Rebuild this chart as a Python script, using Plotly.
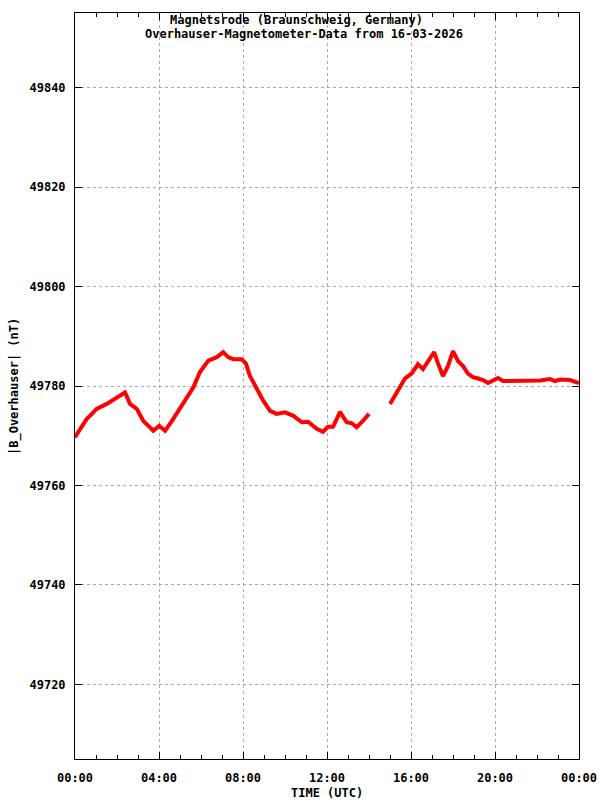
import plotly.graph_objects as go

# Segment 1 (00:00 - 14:00), hours and nT
hours_1 = [0.00, 0.24, 0.56, 0.71, 1.03, 1.51, 1.99, 2.14, 2.38, 2.62, 2.94, 3.25, 3.48, 3.73,
           4.01, 4.29, 4.68, 5.16, 5.63, 5.95, 6.35, 6.75, 7.06, 7.29, 7.54, 7.94, 8.14, 8.33,
           8.65, 8.97, 9.29, 9.60, 10.00, 10.40, 10.80, 11.10, 11.51, 11.81, 12.05, 12.29,
           12.62, 12.94, 13.19, 13.41, 13.71, 14.00]
field_1 = [49769.7, 49771.4, 49773.4, 49774.0, 49775.4, 49776.4, 49777.7, 49778.0, 49778.7,
           49776.4, 49775.4, 49773.0, 49772.0, 49771.0, 49772.0, 49771.0, 49773.4, 49776.7,
           49779.7, 49782.8, 49785.1, 49785.8, 49786.8, 49785.8, 49785.4, 49785.4, 49784.5,
           49782.0, 49779.4, 49777.0, 49775.0, 49774.4, 49774.7, 49774.0, 49772.7, 49772.8,
           49771.4, 49770.8, 49771.8, 49771.8, 49774.8, 49772.7, 49772.5, 49771.7, 49773.0,
           49774.4]

# Segment 2 (15:00 - 24:00)
hours_2 = [15.00, 15.24, 15.48, 15.71, 16.05, 16.33, 16.57, 16.90, 17.10, 17.29, 17.52, 17.76,
           18.00, 18.24, 18.48, 18.71, 18.95, 19.19, 19.43, 19.67, 19.90, 20.14, 20.38, 20.71,
           21.19, 21.67, 22.14, 22.62, 22.86, 23.10, 23.57, 24.00]
field_2 = [49776.4, 49778.2, 49780.0, 49781.5, 49782.6, 49784.4, 49783.4, 49785.4, 49786.8,
           49784.5, 49782.0, 49784.0, 49787.0, 49785.0, 49784.0, 49782.5, 49781.8, 49781.5,
           49781.2, 49780.6, 49781.0, 49781.6, 49781.0, 49781.0, 49781.1, 49781.1, 49781.1,
           49781.4, 49781.0, 49781.3, 49781.2, 49780.6]

x_tick_vals = [0, 4, 8, 12, 16, 20, 24]
x_tick_text = ["00:00", "04:00", "08:00", "12:00", "16:00", "20:00", "00:00"]
y_tick_vals = [49720, 49740, 49760, 49780, 49800, 49820, 49840]
y_tick_text = [str(v) for v in y_tick_vals]

FONT = "DejaVu Sans Mono"

xs = hours_1 + [None] + hours_2
ys = field_1 + [None] + field_2

fig = go.Figure()
fig.add_trace(go.Scatter(x=xs, y=ys, mode="lines", connectgaps=False,
                         line=dict(color="#ff0000", width=4), showlegend=False))

axis_common = dict(
    showline=True, linecolor="black", linewidth=1, mirror="allticks",
    ticks="inside", ticklen=7, tickcolor="black", tickwidth=1,
    showgrid=True, gridcolor="#a8a8a8", gridwidth=1, griddash="dot",
    zeroline=False,
    tickfont=dict(family=FONT, size=12, color="black", weight="bold"),
)

fig.update_xaxes(range=[0, 24], tickmode="array", tickvals=x_tick_vals, ticktext=x_tick_text,
                 minor=dict(dtick=1, tick0=0, ticks="inside", ticklen=4, tickcolor="black",
                            showgrid=False),
                 ticklabelstandoff=8, **axis_common)
fig.update_yaxes(range=[49705, 49855], tickmode="array", tickvals=y_tick_vals,
                 ticktext=y_tick_text, ticklabelstandoff=6, **axis_common)

fig.update_layout(
    width=600, height=800,
    margin=dict(l=75, r=21, t=13, b=41, autoexpand=False),
    plot_bgcolor="white", paper_bgcolor="white",
    font=dict(family=FONT, size=12, color="black"),
    annotations=[
        dict(text="<b>Magnetsrode (Braunschweig, Germany)</b>", xref="paper", yref="paper",
             x=(296 - 75) / 504, y=1, yshift=-7, xanchor="center", yanchor="middle",
             showarrow=False, font=dict(family=FONT, size=12)),
        dict(text="<b>Overhauser-Magnetometer-Data from 16-03-2026</b>", xref="paper", yref="paper",
             x=(304 - 75) / 504, y=1, yshift=-21, xanchor="center", yanchor="middle",
             showarrow=False, font=dict(family=FONT, size=12)),
        dict(text="<b>TIME (UTC)</b>", xref="paper", yref="paper",
             x=(327 - 75) / 504, y=0, yshift=-34, xanchor="center", yanchor="middle",
             showarrow=False, font=dict(family=FONT, size=12)),
        dict(text="<b>|B_Overhauser| (nT)</b>", xref="paper", yref="paper",
             x=0, xshift=-61, y=(759 - 387) / 746, xanchor="center", yanchor="middle",
             textangle=-90, showarrow=False, font=dict(family=FONT, size=12)),
    ],
)

fig.write_html("out.html", config={"displayModeBar": False},
               post_script="document.body.style.margin='0';document.body.style.overflow='hidden';")
